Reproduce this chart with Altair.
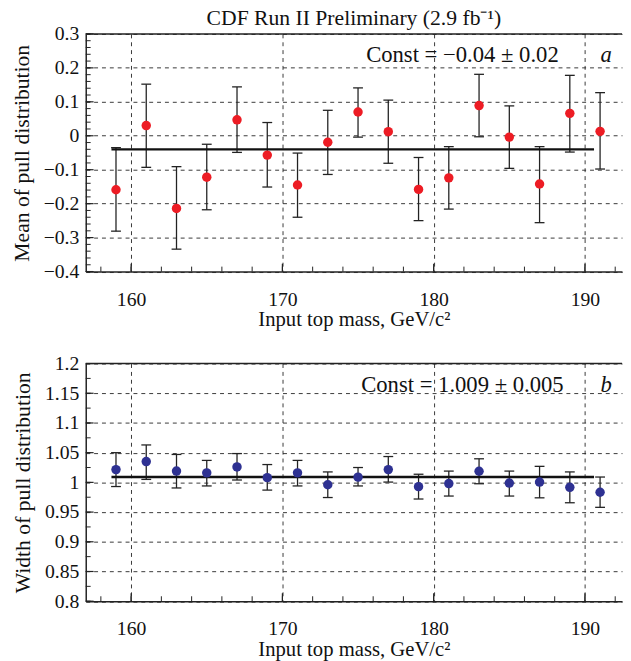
import altair as alt
import pandas as pd

# ---------------- data ----------------
mass = [159, 161, 163, 165, 167, 169, 171, 173, 175, 177, 179, 181, 183, 185, 187, 189, 191]

mean_val = [-0.159, 0.030, -0.214, -0.122, 0.047, -0.057, -0.145, -0.019, 0.070,
            0.012, -0.158, -0.124, 0.089, -0.004, -0.142, 0.066, 0.013]
mean_lo = [-0.281, -0.093, -0.334, -0.218, -0.049, -0.151, -0.240, -0.114, -0.004,
           -0.081, -0.250, -0.216, -0.003, -0.096, -0.256, -0.048, -0.098]
mean_hi = [-0.035, 0.152, -0.091, -0.025, 0.144, 0.039, -0.051, 0.075, 0.141,
           0.105, -0.064, -0.032, 0.181, 0.088, -0.032, 0.178, 0.127]

width_val = [1.0215, 1.035, 1.019, 1.016, 1.026, 1.008, 1.016, 0.996, 1.0088,
             1.0215, 0.9928, 0.998, 1.0187, 0.9988, 1.0005, 0.9917, 0.9834]
width_lo = [0.993, 1.005, 0.9906, 0.994, 1.004, 0.987, 0.994, 0.9745, 0.994,
            1.0005, 0.972, 0.977, 0.9977, 0.977, 0.974, 0.9657, 0.958]
width_hi = [1.050, 1.063, 1.047, 1.037, 1.0485, 1.030, 1.037, 1.0176, 1.025,
            1.0435, 1.0137, 1.019, 1.0397, 1.019, 1.027, 1.0176, 1.009]

mean_const = -0.04
width_const = 1.009
const_x_range = [158.7, 190.6]

x_domain = [157, 192.45]
x_major = [160, 170, 180, 190]
x_minor = list(range(158, 193, 2))

mean_domain = [-0.4, 0.3]
mean_major = [-0.4, -0.3, -0.2, -0.1, 0.0, 0.1, 0.2, 0.3]
mean_minor = [round(-0.4 + 0.02 * i, 3) for i in range(36)]

width_domain = [0.8, 1.2]
width_major = [0.8, 0.85, 0.9, 0.95, 1.0, 1.05, 1.1, 1.15, 1.2]
width_minor = [round(0.8 + 0.025 * i, 3) for i in range(17)]

title_text = "CDF Run II Preliminary (2.9 fb\u207b\u00b9)"
x_title = "Input top mass, GeV/c\u00b2"
mean_title = "Mean of pull distribution"
width_title = "Width of pull distribution"
mean_label = "Const = \u22120.04 \u00b1 0.02"
width_label = "Const = 1.009 \u00b1 0.005"
mean_letter = "a"
width_letter = "b"
label_x = 181.9
letter_x = 191.4
mean_label_y = 0.239
width_label_y = 1.163

RED = "#ED1C24"
BLUE = "#2E3192"
INK = "#222222"
FONT = "Liberation Serif"
W = 545
H = 241.5


def panel(val, lo, hi, color, ydomain, ymajor, yminor, ytitle, fmt, const,
          label, letter, label_y, title=None):
    df = pd.DataFrame({"m": mass, "v": val, "lo": lo, "hi": hi})
    X = alt.X("m:Q", scale=alt.Scale(domain=x_domain, nice=False, zero=False, padding=0),
              axis=alt.Axis(values=x_major, title=x_title, format="d",
                            labelPadding=18, titlePadding=0))
    ysc = alt.Scale(domain=ydomain, nice=False, zero=False, padding=0)
    yax = alt.Axis(values=ymajor, title=ytitle, format=fmt, labelPadding=7,
                   titlePadding=10)

    def Y(f):
        return alt.Y(f + ":Q", scale=ysc, axis=yax)

    bars = alt.Chart(df).mark_rule(color=INK, strokeWidth=1.3).encode(
        x=X, y=Y("lo"), y2="hi")
    cap_lo = alt.Chart(df).mark_tick(orient="horizontal", size=10, thickness=1.3,
                                     color=INK, opacity=1).encode(x=X, y=Y("lo"))
    cap_hi = alt.Chart(df).mark_tick(orient="horizontal", size=10, thickness=1.3,
                                     color=INK, opacity=1).encode(x=X, y=Y("hi"))
    cdf = pd.DataFrame({"m": [const_x_range[0]], "m2": [const_x_range[1]], "v": [const]})
    cline = alt.Chart(cdf).mark_rule(color="#111", strokeWidth=2.4).encode(
        x=X, x2="m2", y=Y("v"))
    pts = alt.Chart(df).mark_circle(size=92, opacity=1, color=color).encode(x=X, y=Y("v"))

    ymaj = alt.Chart(pd.DataFrame({"v": ymajor})).mark_rule(color=INK, strokeWidth=1.2).encode(
        y=Y("v"), x=alt.value(0), x2=alt.value(8))
    ymin = alt.Chart(pd.DataFrame({"v": yminor})).mark_rule(color=INK, strokeWidth=1).encode(
        y=Y("v"), x=alt.value(0), x2=alt.value(5))
    xmaj = alt.Chart(pd.DataFrame({"m": x_major})).mark_rule(color=INK, strokeWidth=1.2).encode(
        x=X, y=alt.value(H), y2=alt.value(H - 8))
    xmin = alt.Chart(pd.DataFrame({"m": x_minor})).mark_rule(color=INK, strokeWidth=1).encode(
        x=X, y=alt.value(H), y2=alt.value(H - 5))
    topline = alt.Chart(pd.DataFrame({"k": [0]})).mark_rule(color=INK, strokeWidth=1.5).encode(
        y=alt.value(0), x=alt.value(0), x2=alt.value(W))

    tdf = pd.DataFrame({"m": [label_x], "v": [label_y], "s": [label]})
    txt = alt.Chart(tdf).mark_text(font=FONT, fontSize=23, color="#111",
                                   baseline="middle", align="center").encode(
        x=X, y=Y("v"), text="s:N")
    ldf = pd.DataFrame({"m": [letter_x], "v": [label_y], "s": [letter]})
    let = alt.Chart(ldf).mark_text(font=FONT, fontSize=23, fontStyle="italic", color="#111",
                                   baseline="middle", align="center").encode(
        x=X, y=Y("v"), text="s:N")

    props = dict(width=W, height=H)
    if title is not None:
        props["title"] = alt.TitleParams(title, font=FONT, fontSize=22, fontWeight="normal",
                                         color="#111", anchor="middle", frame="group",
                                         offset=-6)
    return alt.layer(bars, cap_lo, cap_hi, cline, pts, ymin, ymaj, xmin, xmaj, topline,
                     txt, let).properties(**props)


top = panel(mean_val, mean_lo, mean_hi, RED, mean_domain, mean_major, mean_minor,
            mean_title, ".1~f", mean_const, mean_label, mean_letter, mean_label_y,
            title=title_text)
bottom = panel(width_val, width_lo, width_hi, BLUE, width_domain, width_major, width_minor,
               width_title, ".2~f", width_const, width_label, width_letter, width_label_y)

chart = alt.vconcat(top, bottom, spacing=24).properties(
    padding={"left": 2, "top": -6, "right": 0, "bottom": 0}
).configure_view(stroke=None).configure_axis(
    labelFont=FONT, labelFontSize=20, labelColor="#111",
    titleFont=FONT, titleFontWeight="normal", titleColor="#111",
    domainColor=INK, domainWidth=1.5, ticks=False,
    grid=True, gridColor="#222", gridDash=[4, 4], gridWidth=0.9, gridOpacity=1,
    labelFlush=False
).configure_axisX(titleFontSize=21).configure_axisY(titleFontSize=22)

chart.save("out.html", embed_options={"renderer": "svg", "actions": False})
